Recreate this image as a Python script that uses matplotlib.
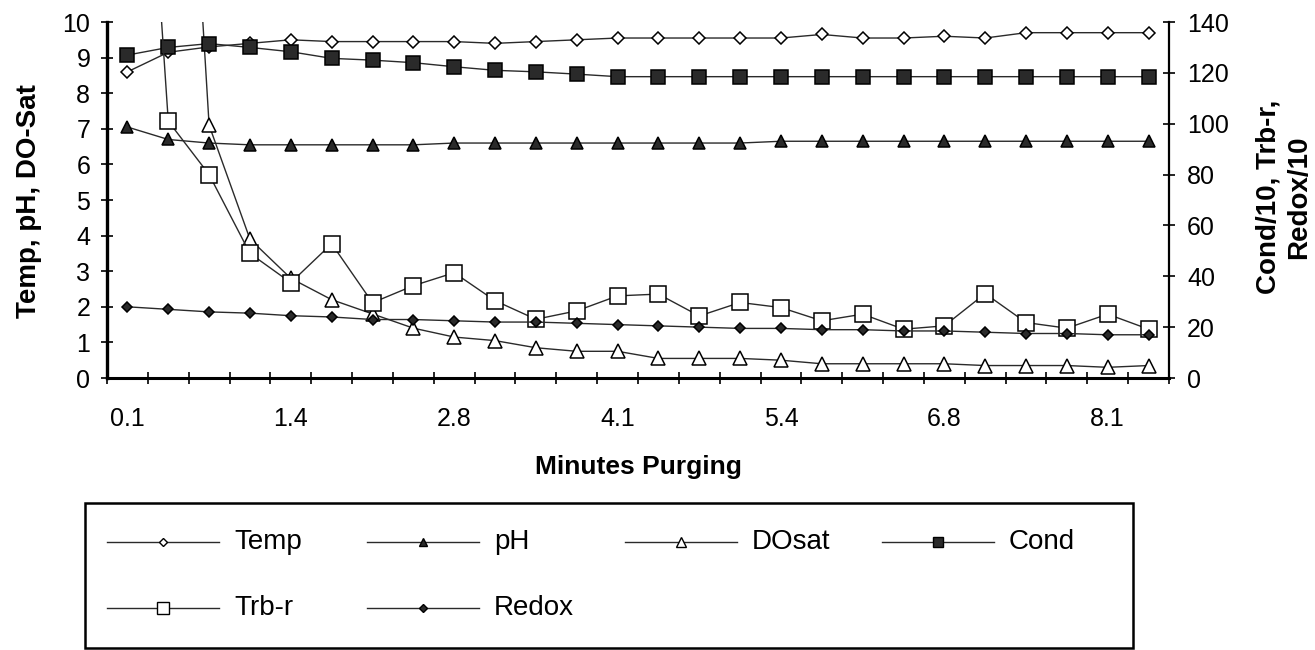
import numpy as np
import matplotlib
matplotlib.use("Agg")
import matplotlib.pyplot as plt
from matplotlib.lines import Line2D
from matplotlib.patches import Rectangle

plt.rcParams["font.family"] = ["Liberation Sans", "DejaVu Sans"]

# ── data ─────────────────────────────────────────────────────────────────────
minutes = ["0.1", "0.4", "0.8", "1.1", "1.4", "1.8", "2.1", "2.4", "2.8", "3.1",
           "3.4", "3.8", "4.1", "4.4", "4.8", "5.1", "5.4", "5.8", "6.1", "6.4",
           "6.8", "7.1", "7.4", "7.8", "8.1", "8.4"]

# left axis
temp = [8.6, 9.15, 9.3, 9.4, 9.5, 9.45, 9.45, 9.45, 9.45, 9.4, 9.45, 9.5, 9.55,
        9.55, 9.55, 9.55, 9.55, 9.65, 9.55, 9.55, 9.6, 9.55, 9.7, 9.7, 9.7, 9.7]
ph = [7.05, 6.7, 6.6, 6.55, 6.55, 6.55, 6.55, 6.55, 6.6, 6.6, 6.6, 6.6, 6.6,
      6.6, 6.6, 6.6, 6.65, 6.65, 6.65, 6.65, 6.65, 6.65, 6.65, 6.65, 6.65, 6.65]
dosat = [np.nan, 26, 7.1, 3.9, 2.8, 2.2, 1.8, 1.4, 1.15, 1.05, 0.85, 0.75, 0.75,
         0.55, 0.55, 0.55, 0.5, 0.4, 0.4, 0.4, 0.4, 0.35, 0.35, 0.35, 0.3, 0.35]

# right axis
cond = [127, 130, 131.5, 130, 128.3, 125.7, 125, 124, 122.4, 121, 120.4, 119.5,
        118.5, 118.5, 118.5, 118.5, 118.5, 118.5, 118.5, 118.5, 118.5, 118.5,
        118.5, 118.5, 118.5, 118.5]
trb = [340, 101, 80, 49, 37.5, 52.8, 29.6, 36.3, 41.4, 30.4, 23.1, 26.4, 32.3,
       33.0, 24.4, 29.7, 27.7, 22.5, 25.1, 19.2, 20.5, 33.2, 21.8, 19.6, 25.1, 19.2]
redox = [28, 27, 26, 25.5, 24.5, 24, 23, 23, 22.5, 22, 22, 21.5, 21, 20.5, 20,
         19.5, 19.5, 19, 19, 18.5, 18.5, 18, 17.5, 17.5, 17, 17]

LINE = "#2a2a2a"
W, H = 1315, 650

# name, values, axis, marker, filled, markersize
series = [
    ("Temp",  temp,  "L", "D", False, 6.0),
    ("pH",    ph,    "L", "^", True,  8.5),
    ("DOsat", dosat, "L", "^", False, 10.0),
    ("Cond",  cond,  "R", "s", True,  10.5),
    ("Trb-r", trb,   "R", "s", False, 11.5),
    ("Redox", redox, "R", "D", True,  5.5),
]

fig = plt.figure(figsize=(W / 100, H / 100), dpi=100)
fig.patch.set_facecolor("white")
ax = fig.add_axes([107 / W, 1 - 378 / H, (1169 - 107) / W, (378 - 22) / H])
ax2 = ax.twinx()

x = np.arange(len(minutes))
for name, vals, side, mk, filled, ms in series:
    tgt = ax if side == "L" else ax2
    tgt.plot(x, vals, color=LINE, lw=1.0, marker=mk, markersize=ms,
             markerfacecolor=LINE if filled else "white",
             markeredgecolor="black", markeredgewidth=1.1, zorder=3)

ax.set_xlim(-0.5, len(minutes) - 0.5)
ax.set_ylim(0, 10)
ax2.set_ylim(0, 140)

# category boundaries carry the tick marks, every 4th category gets a label
ax.set_xticks(np.arange(-0.5, len(minutes), 1))
ax.set_xticklabels([])
lab_idx = x[::4]
ax.set_xticks(lab_idx, minor=True)
ax.set_xticklabels([minutes[i] for i in lab_idx], minor=True)
ax.tick_params(axis="x", which="major", direction="inout", length=8, width=1.2)
ax.tick_params(axis="x", which="minor", length=0, pad=21, labelsize=18)

ax.set_yticks(np.arange(0, 11, 1))
ax.tick_params(axis="y", direction="inout", length=8, width=1.2, pad=8, labelsize=18)
ax2.set_yticks(np.arange(0, 141, 20))
ax2.tick_params(axis="y", direction="inout", length=8, width=1.2, pad=9, labelsize=18)

for a in (ax, ax2):
    a.spines["top"].set_visible(False)
    a.set_facecolor("none")
ax.spines["right"].set_visible(False)
ax2.spines["left"].set_visible(False)
ax2.spines["bottom"].set_visible(False)
ax.spines["left"].set_linewidth(2.4)
ax.spines["bottom"].set_linewidth(2.2)
ax2.spines["right"].set_linewidth(1.6)

# axis titles
fig.text(29 / W, 1 - 201 / H, "Temp, pH, DO-Sat", rotation=90, ha="center",
         va="center", fontsize=20, fontweight="bold")
fig.text(1284 / W, 1 - 197 / H, "Cond/10, Trb-r,\nRedox/10", rotation=90,
         ha="center", va="center", fontsize=20, fontweight="bold", linespacing=1.25)
fig.text(638 / W, 1 - 467 / H, "Minutes Purging", ha="center", va="center",
         fontsize=19, fontweight="bold")

# ── legend box (drawn by hand, Excel-style layout) ───────────────────────────
fig.add_artist(Rectangle((85 / W, 1 - 648 / H), (1133 - 85) / W, (648 - 503) / H,
                         transform=fig.transFigure, facecolor="white",
                         edgecolor="black", linewidth=1.8))
slots = [(107, 542), (367, 542), (625, 542), (882, 542), (107, 608), (367, 608)]
order = ["Temp", "pH", "DOsat", "Cond", "Trb-r", "Redox"]
lookup = {s[0]: s for s in series}
for (lx, ly), name in zip(slots, order):
    _, _, _, mk, filled, ms = lookup[name]
    yy = 1 - ly / H
    fig.add_artist(Line2D([lx / W, (lx + 112) / W], [yy, yy],
                          transform=fig.transFigure, color=LINE, lw=1.0))
    fig.add_artist(Line2D([(lx + 56) / W], [yy], transform=fig.transFigure,
                          marker=mk, markersize=ms * 0.7,
                          markerfacecolor=LINE if filled else "white",
                          markeredgecolor="black", markeredgewidth=1.0,
                          linestyle="none"))
    fig.text((lx + 127) / W, yy, name, ha="left", va="center", fontsize=20)

fig.savefig("out.png", dpi=100, facecolor="white")
